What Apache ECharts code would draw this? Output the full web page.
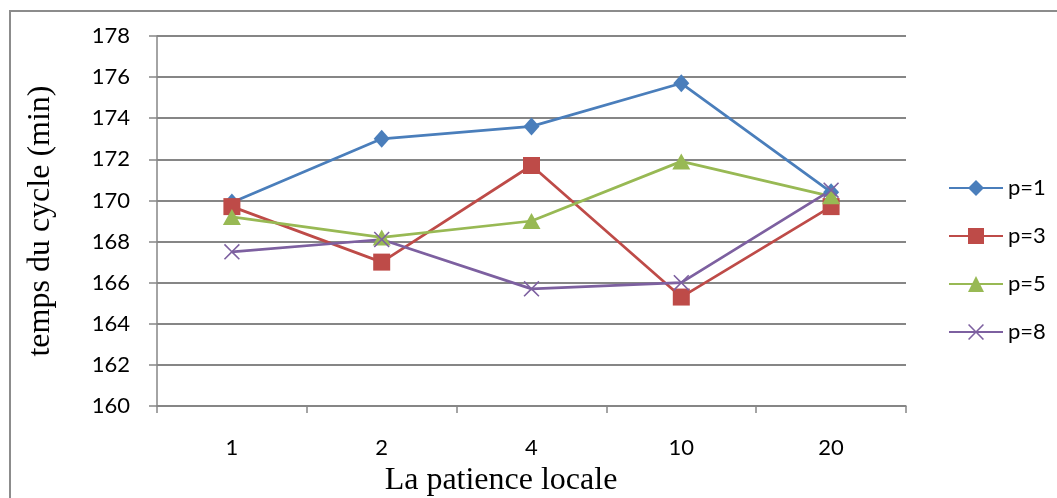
<!DOCTYPE html>
<html>
<head>
<meta charset="utf-8">
<script src="https://cdn.jsdelivr.net/npm/echarts@6/dist/echarts.min.js"></script>
<style>
html,body{margin:0;padding:0;background:#fff;}
#c{width:1057px;height:498px;}
</style>
</head>
<body>
<div id="c"></div>
<script>
const categories = ['1', '2', '4', '10', '20'];
const p1 = [169.9, 173.0, 173.6, 175.7, 170.4];
const p3 = [169.7, 167.0, 171.7, 165.3, 169.7];
const p5 = [169.2, 168.2, 169.0, 171.9, 170.2];
const p8 = [167.5, 168.1, 165.7, 166.0, 170.5];
const seriesNames = ['p=1', 'p=3', 'p=5', 'p=8'];
const yTicks = { min: 160, max: 178, interval: 2 };
const xTitle = 'La patience locale';
const yTitle = 'temps du cycle (min)';

const colors = ['#4A7EBB', '#BE4B48', '#98B954', '#7D60A0'];
const crossPath = 'path://M0,0.7L0.7,0L5,4.3L9.3,0L10,0.7L5.7,5L10,9.3L9.3,10L5,5.7L0.7,10L0,9.3L4.3,5Z';
const symbols = ['diamond', 'rect', 'triangle', crossPath];
const sizes = [[16, 18], 17, [18, 16], 16];
const data = [p1, p3, p5, p8];

const chart = echarts.init(document.getElementById('c'));
chart.setOption({
  animation: false,
  backgroundColor: '#fff',
  color: colors,
  grid: { left: 157, right: 151, top: 36, bottom: 92, containLabel: false },
  legend: {
    orient: 'vertical',
    left: 943,
    top: 172,
    itemWidth: 54,
    itemHeight: 20,
    itemGap: 26,
    textStyle: { fontFamily: 'Lato', fontSize: 22, color: '#000' },
    data: seriesNames
  },
  xAxis: {
    type: 'category',
    data: categories,
    boundaryGap: true,
    axisLine: { lineStyle: { color: '#868686', width: 1.5 } },
    axisTick: { show: true, length: 7, alignWithLabel: false, lineStyle: { color: '#868686', width: 1.5 } },
    axisLabel: { margin: 31, fontFamily: 'Lato', fontSize: 22, color: '#000' },
    splitLine: { show: false }
  },
  yAxis: {
    type: 'value',
    min: yTicks.min,
    max: yTicks.max,
    interval: yTicks.interval,
    axisLine: { show: true, lineStyle: { color: '#868686', width: 1.5 } },
    axisTick: { show: true, length: 8, inside: false, lineStyle: { color: '#868686', width: 1.5 } },
    axisLabel: { margin: 27, fontFamily: 'Lato', fontSize: 22, color: '#000' },
    splitLine: { show: true, lineStyle: { color: '#868686', width: 2 } }
  },
  series: data.map((d, i) => ({
    name: seriesNames[i],
    type: 'line',
    data: d,
    symbol: symbols[i],
    symbolSize: sizes[i],
    showAllSymbol: true,
    lineStyle: { width: 2.75, color: colors[i] },
    itemStyle: { color: colors[i] }
  })),
  graphic: [
    {
      type: 'rect',
      shape: { x: 10, y: 11, width: 1100, height: 600 },
      style: { fill: 'none', stroke: '#8c8c8c', lineWidth: 2 },
      silent: true
    },
    {
      type: 'text',
      x: 501,
      y: 481,
      style: {
        text: xTitle,
        fontFamily: 'Liberation Serif',
        fontSize: 32,
        fill: '#000',
        align: 'center',
        verticalAlign: 'middle'
      }
    },
    {
      type: 'text',
      x: 41,
      y: 221,
      rotation: Math.PI / 2,
      style: {
        text: yTitle,
        fontFamily: 'Liberation Serif',
        fontSize: 32,
        fill: '#000',
        align: 'center',
        verticalAlign: 'middle'
      }
    }
  ]
});
</script>
</body>
</html>
